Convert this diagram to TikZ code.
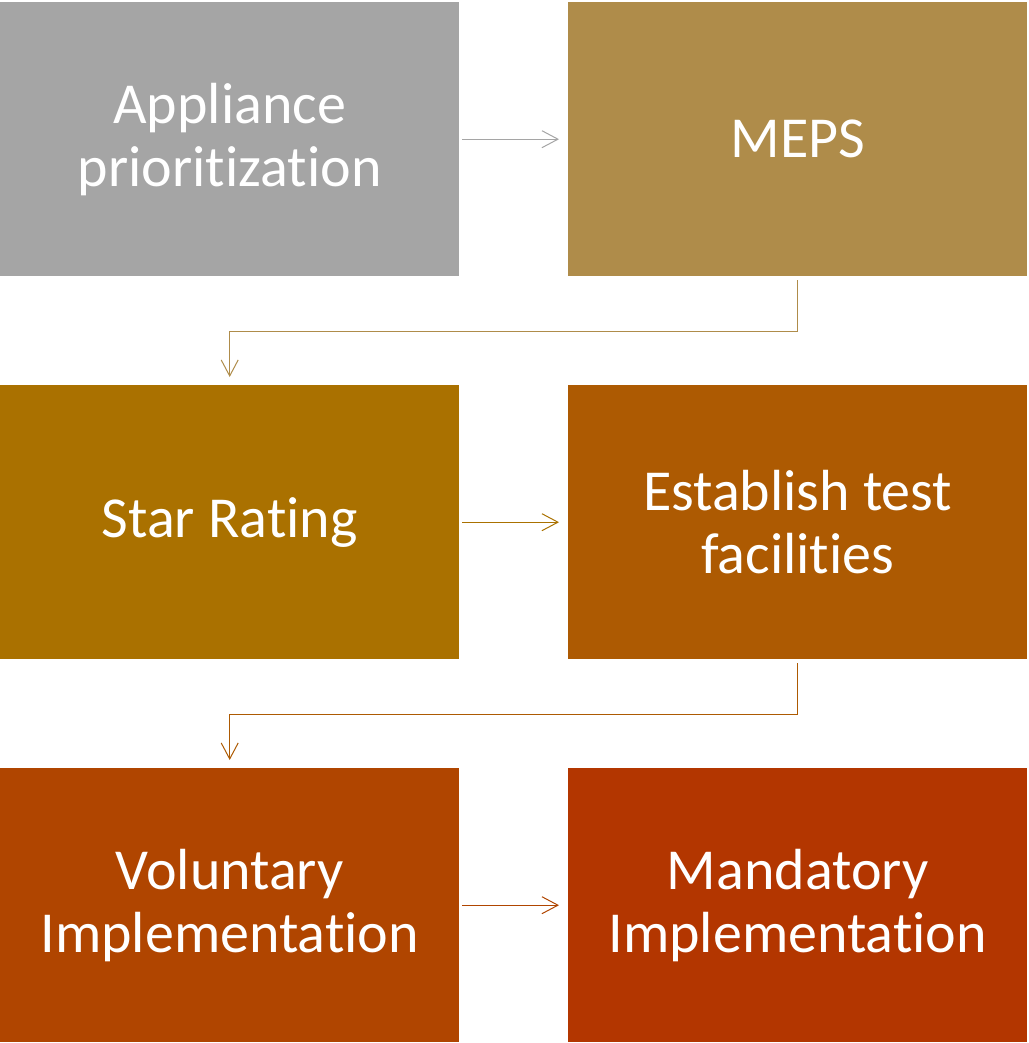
\documentclass[tikz,border=0pt]{standalone}
\usepackage{fontspec}
\setmainfont{Carlito}[RawFeature={-liga;-dlig;-calt;-clig}]
\usetikzlibrary{arrows.meta,positioning}
\definecolor{c1}{HTML}{A5A5A5}
\definecolor{c2}{HTML}{AF8C4A}
\definecolor{c3}{HTML}{AA7100}
\definecolor{c4}{HTML}{AD5A02}
\definecolor{c5}{HTML}{B04500}
\definecolor{c6}{HTML}{B33600}
\tikzset{
  box/.style={rectangle, inner sep=0pt, minimum width=459pt, minimum height=274pt,
    anchor=north west, text=white, align=center, font=\fontsize{58}{63}\selectfont},
  conn/.style={line width=1pt, -{Straight Barb[length=16pt,width=17pt,line width=1pt]},
    shorten <=3pt, shorten >=9pt}
}
\begin{document}
\begin{tikzpicture}[x=1pt,y=1pt]
\useasboundingbox (0,0) rectangle (1028,-1043);
\node[box, fill=c1] (b1) at (0,-2) {Appliance\\priorit\kern0pt ization};
\node[box, fill=c2] (b2) at (568,-2) {MEPS};
\node[box, fill=c3] (b3) at (0,-385) {Star Rating};
\node[box, fill=c4] (b4) at (568,-385) {Establish test\\facilities};
\node[box, fill=c5] (b5) at (0,-768) {Voluntary\\Implementat\kern0pt ion};
\node[box, fill=c6] (b6) at (568,-768) {Mandatory\\Implementat\kern0pt ion};
\draw[conn, draw=c1] (b1.east) -- (b2.west);
\draw[conn, draw=c3] (b3.east) -- (b4.west);
\draw[conn, draw=c5] (b5.east) -- (b6.west);
\coordinate (k1) at ([yshift=-55pt]b2.south);
\coordinate (k2) at ([yshift=-55pt]b4.south);
\draw[conn, draw=c2, shorten <=4pt, shorten >=8pt] (b2.south) -- (k1) -| (b3.north);
\draw[conn, draw=c4, shorten <=4pt, shorten >=8pt] (b4.south) -- (k2) -| (b5.north);
\end{tikzpicture}
\end{document}
